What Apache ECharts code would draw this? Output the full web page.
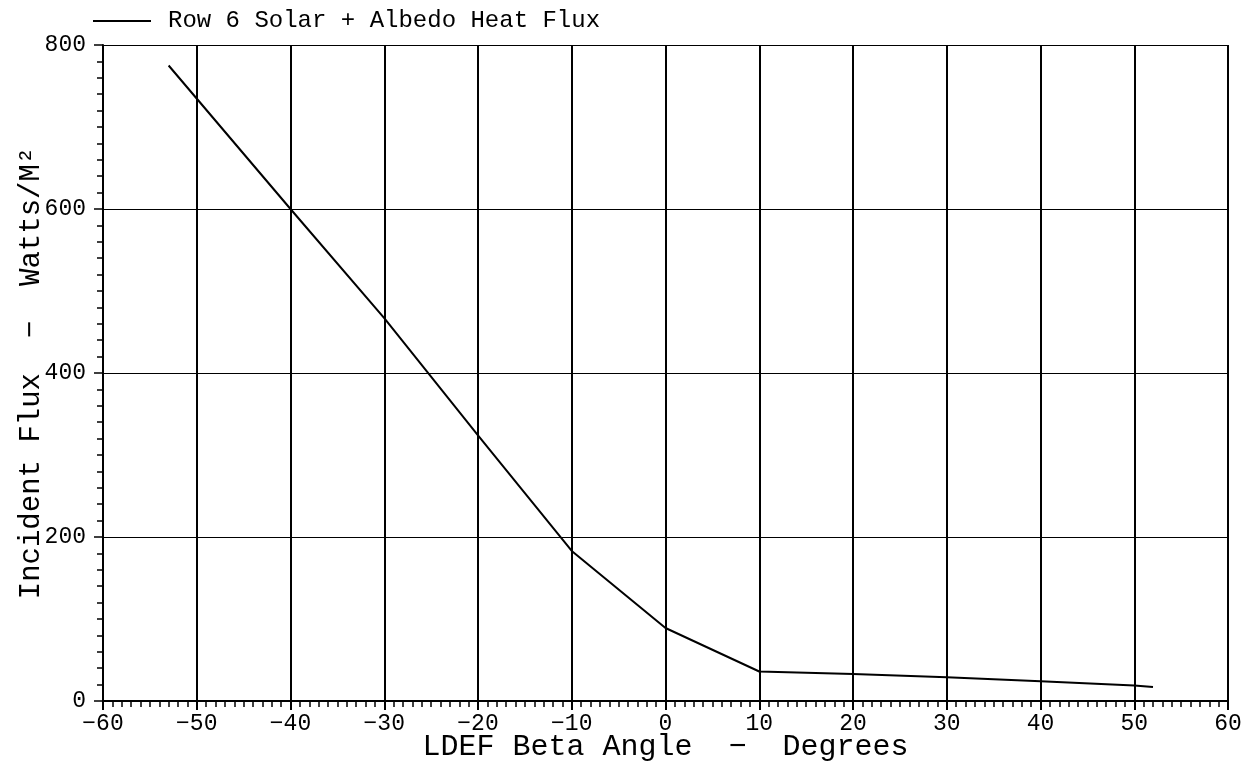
<!DOCTYPE html>
<html>
<head>
<meta charset="utf-8">
<script src="https://cdn.jsdelivr.net/npm/echarts@6/dist/echarts.min.js"></script>
<style>
html,body{margin:0;padding:0;background:#fff;}
#chart{width:1253px;height:764px;}
</style>
</head>
<body>
<div id="chart"></div>
<script>
var betaAngle = [-53, -40, -30, -20, -10, 0, 10, 20, 30, 40, 50, 52];
var flux = [775, 600, 467, 324, 183, 89, 36, 33, 29, 24, 19, 17];
var seriesName = 'Row 6 Solar + Albedo Heat Flux';
var xTitle = 'LDEF Beta Angle  \u2212  Degrees';
var yTitle = 'Incident Flux  \u2212  Watts/M\u00B2';

var FONT = 'Liberation Mono';
var chart = echarts.init(document.getElementById('chart'), null, {renderer: 'canvas'});
var option = {
  backgroundColor: '#fff',
  animation: false,
  legend: {
    left: 88, top: 4,
    icon: 'rect', itemWidth: 58, itemHeight: 2,
    data: [seriesName],
    textStyle: {fontFamily: FONT, fontSize: 24, color: '#000', padding: [0,0,0,12]}
  },
  grid: {left: 103, right: 25, top: 45, bottom: 63, containLabel: false, outerBoundsMode: 'none'},
  xAxis: {
    type: 'value', min: -60, max: 60, interval: 10,
    name: xTitle, nameLocation: 'middle', nameGap: 31, nameMoveOverlap: false,
    nameTextStyle: {fontFamily: FONT, fontSize: 30, color: '#000'},
    axisLine: {show: true, onZero: false, lineStyle: {color: '#000', width: 2}},
    axisTick: {show: true, inside: false, length: 9, lineStyle: {color: '#000', width: 2}},
    minorTick: {show: true, splitNumber: 10, length: 6, lineStyle: {color: '#000', width: 1.5}},
    splitLine: {show: true, lineStyle: {color: '#000', width: 2}},
    axisLabel: {fontFamily: FONT, fontSize: 23, color: '#000', margin: 11,
      formatter: function(v){ return v < 0 ? '\u2212' + Math.abs(v) : String(v); }}
  },
  yAxis: {
    type: 'value', min: 0, max: 800, interval: 200,
    name: yTitle, nameLocation: 'middle', nameGap: 57, nameMoveOverlap: false,
    nameTextStyle: {fontFamily: FONT, fontSize: 29, color: '#000'},
    axisLine: {show: true, onZero: false, lineStyle: {color: '#000', width: 2}},
    axisTick: {show: true, inside: false, length: 9, lineStyle: {color: '#000', width: 1.5}},
    minorTick: {show: true, splitNumber: 10, length: 6, lineStyle: {color: '#000', width: 1.5}},
    splitLine: {show: true, lineStyle: {color: '#000', width: 1.2}},
    axisLabel: {fontFamily: FONT, fontSize: 23, color: '#000', margin: 17}
  },
  series: [{
    name: seriesName,
    type: 'line',
    data: betaAngle.map(function(x, i){ return [x, flux[i]]; }),
    showSymbol: false,
    symbol: 'none',
    lineStyle: {color: '#000', width: 2},
    itemStyle: {color: '#000'}
  }]
};
chart.setOption(option);
</script>
</body>
</html>
